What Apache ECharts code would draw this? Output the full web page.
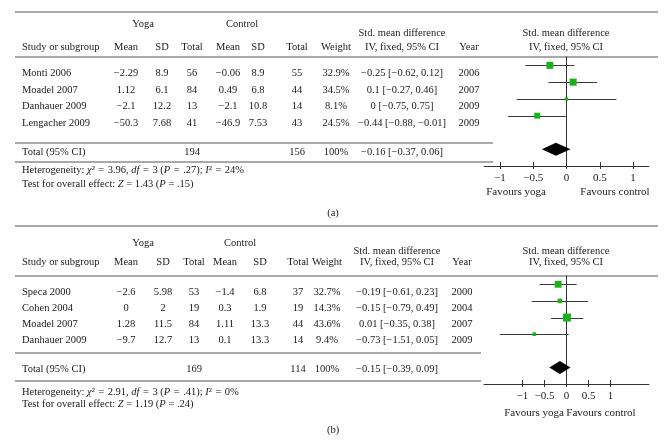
<!DOCTYPE html>
<html><head><meta charset="utf-8">
<script src="https://cdn.jsdelivr.net/npm/echarts@6/dist/echarts.min.js"></script>
<style>html,body{margin:0;padding:0;background:#fff}#c{width:666px;height:444px}</style>
</head><body><div id="c"></div>
<script>
// ---------- Panel (a) data ----------
const studiesA = ['Monti 2006', 'Moadel 2007', 'Danhauer 2009', 'Lengacher 2009'];
const yogaMeanA = [-2.29, 1.12, -2.1, -50.3];
const yogaSdA = [8.9, 6.1, 12.2, 7.68];
const yogaNA = [56, 84, 13, 41];
const ctrlMeanA = [-0.06, 0.49, -2.1, -46.9];
const ctrlSdA = [8.9, 6.8, 10.8, 7.53];
const ctrlNA = [55, 44, 14, 43];
const weightA = [32.9, 34.5, 8.1, 24.5];
const smdA = [-0.25, 0.1, 0, -0.44];
const loA = [-0.62, -0.27, -0.75, -0.88];
const hiA = [0.12, 0.46, 0.75, -0.01];
const yearA = [2006, 2007, 2009, 2009];
const totalNA = [194, 156];
const totalSmdA = [-0.16, -0.37, 0.06];
const hetA = [3.96, 3, '.27', 24];
const zA = [1.43, '.15'];

// ---------- Panel (b) data ----------
const studiesB = ['Speca 2000', 'Cohen 2004', 'Moadel 2007', 'Danhauer 2009'];
const yogaMeanB = [-2.6, 0, 1.28, -9.7];
const yogaSdB = [5.98, 2, 11.5, 12.7];
const yogaNB = [53, 19, 84, 13];
const ctrlMeanB = [-1.4, 0.3, 1.11, 0.1];
const ctrlSdB = [6.8, 1.9, 13.3, 13.3];
const ctrlNB = [37, 19, 44, 14];
const weightB = [32.7, 14.3, 43.6, 9.4];
const smdB = [-0.19, -0.15, 0.01, -0.73];
const loB = [-0.61, -0.79, -0.35, -1.51];
const hiB = [0.23, 0.49, 0.38, 0.05];
const yearB = [2000, 2004, 2007, 2009];
const totalNB = [169, 114];
const totalSmdB = [-0.15, -0.39, 0.09];
const hetB = [2.91, 3, '.41', 0];
const zB = [1.19, '.24'];

const tickValues = [-1, -0.5, 0, 0.5, 1];

// ---------- helpers ----------
const FONT = '"Liberation Serif", "DejaVu Serif", serif';
const FS = 10.5;
const INK = '#1a1a1a';
const RULE = '#555';
const fmt = v => (typeof v === 'number' && v < 0) ? '\u2212' + String(Math.abs(v)) : String(v);
const ci = (e, l, h) => fmt(e) + ' [' + fmt(l) + ', ' + fmt(h) + ']';
const EQ = '\u2004=\u2004';

function T(x, y, s, align, size) {
  const fs = size || FS;
  return { type: 'text', x: x, y: y, silent: true,
    style: { text: s, fontFamily: FONT, fontSize: fs, fill: INK, align: align || 'center', verticalAlign: 'middle',
      rich: { i: { fontStyle: 'italic', fontFamily: FONT, fontSize: fs, fill: INK } } } };
}
function L(x1, y, x2, w) {
  return { type: 'line', silent: true, shape: { x1: x1, y1: y, x2: x2, y2: y }, style: { stroke: RULE, lineWidth: w || 1 } };
}

function table(d, c, r) {
  const g = [];
  g.push(L(15, r.top, 658, 1.2), L(15, r.under, 658, 1.2), L(15, r.aboveTot, r.ruleEnd, 1.2), L(15, r.belowTot, r.ruleEnd, 1.2));
  g.push(T(c.yogaHead, r.h1, 'Yoga'), T(c.ctrlHead, r.h1, 'Control'));
  g.push(T(c.smd, r.h1b, 'Std. mean difference'), T(566, r.h1b, 'Std. mean difference'));
  g.push(T(c.study, r.h2, 'Study or subgroup', 'left'), T(c.ym, r.h2, 'Mean'), T(c.ysd, r.h2, 'SD'), T(c.yn, r.h2, 'Total'),
    T(c.cm, r.h2, 'Mean'), T(c.csd, r.h2, 'SD'), T(c.cn, r.h2, 'Total'), T(c.w, r.h2, 'Weight'),
    T(c.smd, r.h2, 'IV, fixed, 95% CI'), T(c.yr, r.h2, 'Year'), T(566, r.h2, 'IV, fixed, 95% CI'));
  d.studies.forEach((s, i) => {
    const y = r.rows[i];
    g.push(T(c.study, y, s, 'left'), T(c.ym, y, fmt(d.ym[i])), T(c.ysd, y, fmt(d.ysd[i])), T(c.yn, y, fmt(d.yn[i])),
      T(c.cm, y, fmt(d.cm[i])), T(c.csd, y, fmt(d.csd[i])), T(c.cn, y, fmt(d.cn[i])), T(c.w, y, d.w[i] + '%'),
      T(c.smd, y, ci(d.smd[i], d.lo[i], d.hi[i])), T(c.yr, y, String(d.yr[i])));
  });
  g.push(T(c.study, r.tot, 'Total (95% CI)', 'left'), T(c.yn, r.tot, String(d.totN[0])), T(c.cn, r.tot, String(d.totN[1])),
    T(c.w, r.tot, '100%'), T(c.smd, r.tot, ci(d.totS[0], d.totS[1], d.totS[2])));
  g.push(T(c.study, r.het, 'Heterogeneity: {i|\u03c7}\u00b2' + EQ + d.het[0] + ', {i|df}' + EQ + d.het[1] + ' ({i|P}' + EQ + d.het[2] + '); {i|I}\u00b2' + EQ + d.het[3] + '%', 'left'));
  g.push(T(c.study, r.test, 'Test for overall effect: {i|Z} = ' + d.z[0] + ' ({i|P} = ' + d.z[1] + ')', 'left'));
  g.push(T(r.favY[0], r.fav, 'Favours yoga', 'center', 11), T(r.favC[0], r.fav, 'Favours control', 'center', 11));
  g.push(T(333, r.label, r.labelText));
  return g;
}

const dataA = { studies: studiesA, ym: yogaMeanA, ysd: yogaSdA, yn: yogaNA, cm: ctrlMeanA, csd: ctrlSdA, cn: ctrlNA, w: weightA,
  smd: smdA, lo: loA, hi: hiA, yr: yearA, totN: totalNA, totS: totalSmdA, het: hetA, z: zA };
const dataB = { studies: studiesB, ym: yogaMeanB, ysd: yogaSdB, yn: yogaNB, cm: ctrlMeanB, csd: ctrlSdB, cn: ctrlNB, w: weightB,
  smd: smdB, lo: loB, hi: hiB, yr: yearB, totN: totalNB, totS: totalSmdB, het: hetB, z: zB };

const colsA = { study: 22, ym: 126, ysd: 162, yn: 192, cm: 228, csd: 258, cn: 297, w: 336, smd: 402, yr: 469, yogaHead: 143, ctrlHead: 242 };
const colsB = { study: 22, ym: 126, ysd: 163, yn: 194, cm: 225, csd: 260, cn: 298, w: 327, smd: 397, yr: 462, yogaHead: 143, ctrlHead: 240 };
const rowsA = { top: 12, under: 57, aboveTot: 143, belowTot: 162, ruleEnd: 493, h1: 24, h1b: 33, h2: 47,
  rows: [73, 90, 106, 123], tot: 152, het: 170, test: 184, fav: 192, favY: [516], favC: [615], label: 213, labelText: '(a)' };
const rowsB = { top: 226, under: 276, aboveTot: 353, belowTot: 381, ruleEnd: 481, h1: 243, h1b: 251, h2: 262,
  rows: [292, 308, 324, 340], tot: 369, het: 392, test: 404, fav: 413, favY: [534], favC: [601], label: 430, labelText: '(b)' };

// ---------- chart ----------
const chart = echarts.init(document.getElementById('c'), null, { renderer: 'canvas' });
const labelFmt = v => fmt(v);
function xAxes(grid, ext) {
  return [
    { gridIndex: grid, type: 'value', min: -ext, max: ext, position: 'bottom',
      axisLine: { onZero: false, lineStyle: { color: '#333', width: 1 } },
      axisTick: { customValues: tickValues, length: 3, lineStyle: { color: '#333' } },
      axisLabel: { customValues: tickValues, formatter: labelFmt, margin: 7, fontFamily: FONT, fontSize: 11, color: INK },
      splitLine: { show: false } },
    { gridIndex: grid, type: 'value', min: -ext, max: ext, position: 'bottom',
      axisLine: { show: false, onZero: false },
      axisTick: { inside: true, customValues: tickValues, length: 4, lineStyle: { color: '#333' } },
      axisLabel: { show: false }, splitLine: { show: false } }
  ];
}
function yAxis(grid) {
  return { gridIndex: grid, type: 'value', inverse: true, min: 0.5, max: 7,
    axisLine: { show: true, onZero: true, onZeroAxisIndex: grid * 2, lineStyle: { color: '#333', width: 1 } },
    axisTick: { show: false }, axisLabel: { show: false }, splitLine: { show: false } };
}
function series(grid, smd, lo, hi, w, tot) {
  const xi = grid * 2;
  return [
    { type: 'custom', xAxisIndex: xi, yAxisIndex: grid, silent: true,
      data: lo.map((l, i) => [l, hi[i], i + 1]),
      renderItem: (p, api) => {
        const a = api.coord([api.value(0), api.value(2)]);
        const b = api.coord([api.value(1), api.value(2)]);
        const y = Math.round(a[1]) + 0.5;
        return { type: 'line', shape: { x1: a[0], y1: y, x2: b[0], y2: y }, style: { stroke: '#3a3a3a', lineWidth: 1 } };
      } },
    { type: 'scatter', xAxisIndex: xi, yAxisIndex: grid, silent: true, symbol: 'rect',
      data: smd.map((v, i) => [v, i + 1, w[i]]),
      symbolSize: v => Math.sqrt(v[2]) * 1.2,
      itemStyle: { color: '#16b416', opacity: 1 } },
    { type: 'custom', xAxisIndex: xi, yAxisIndex: grid, silent: true,
      data: [[tot[0], tot[1], tot[2], 6]],
      renderItem: (p, api) => {
        const c = api.coord([api.value(0), api.value(3)]);
        const l = api.coord([api.value(1), api.value(3)]);
        const r = api.coord([api.value(2), api.value(3)]);
        const h = 6.5;
        return { type: 'polygon', shape: { points: [[l[0], c[1]], [c[0], c[1] - h], [r[0], c[1]], [c[0], c[1] + h]] },
          style: { fill: '#000' } };
      } }
  ];
}

chart.setOption({
  animation: false,
  backgroundColor: '#fff',
  grid: [
    { left: 484, top: 57, width: 165, height: 109 },
    { left: 484, top: 276, width: 165, height: 108 }
  ],
  xAxis: xAxes(0, 1.24).concat(xAxes(1, 1.87)),
  yAxis: [yAxis(0), yAxis(1)],
  series: series(0, smdA, loA, hiA, weightA, totalSmdA).concat(series(1, smdB, loB, hiB, weightB, totalSmdB)),
  graphic: { elements: table(dataA, colsA, rowsA).concat(table(dataB, colsB, rowsB)) }
});
</script>
</body></html>
